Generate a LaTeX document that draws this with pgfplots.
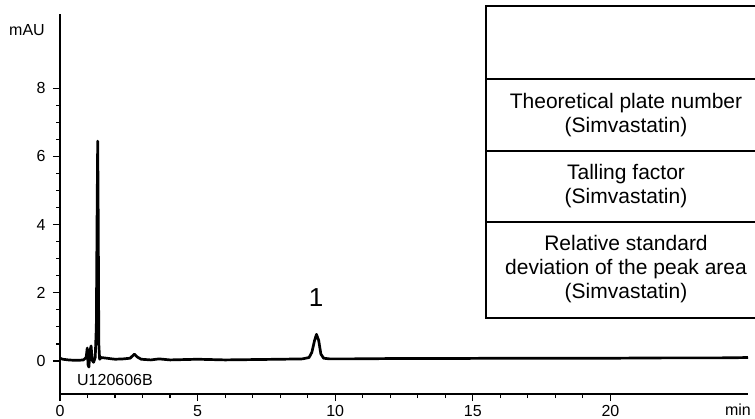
\documentclass[border=0pt]{standalone}
\usepackage{pgfplots}
\pgfplotsset{compat=1.18}
\usepackage{fontspec}
\setmainfont{Liberation Sans}

\begin{document}
\begin{tikzpicture}
\begin{axis}[
  at={(60bp,25bp)}, anchor=south west,
  scale only axis, width=688bp, height=380bp,
  xmin=0, xmax=25, ymin=-0.97, ymax=10.18,
  axis lines*=left,
  axis line style={line width=1.5bp},
  xtick={0,5,10,15,20}, ytick={0,2,4,6,8},
  minor x tick num=4, minor y tick num=3,
  tick align=outside, major tick length=7bp, minor tick length=4bp,
  tick style={line width=1.2bp, black},
  ticklabel style={font=\fontsize{16bp}{18bp}\selectfont},
  xticklabel style={yshift=-1bp},
  yticklabel style={xshift=-4bp},
  /pgf/number format/assume math mode=true,
  clip=false,
]
\addplot[black, line width=2.7bp, line join=round] coordinates {
  (0,0.08) (0.1,0.05) (0.3,0.03) (0.5,0.02) (0.7,0.02) (0.85,0.03)
  (0.95,0.1) (0.99,0.38) (1.02,-0.12) (1.05,-0.18) (1.09,0.3) (1.13,0.44)
  (1.17,0.02) (1.22,-0.04) (1.28,0.1) (1.32,1.0) (1.35,4.5) (1.37,6.45)
  (1.39,4.0) (1.41,0.5) (1.44,0.05) (1.5,0.1) (1.7,0.08) (2.0,0.05)
  (2.3,0.06) (2.55,0.08) (2.7,0.2) (2.8,0.12) (2.95,0.05) (3.3,0.03)
  (3.6,0.06) (4,0.03) (4.5,0.04) (5,0.05) (6,0.03) (7,0.04) (8,0.05)
  (8.8,0.06) (9.05,0.1) (9.15,0.25) (9.25,0.6) (9.32,0.78) (9.4,0.6)
  (9.48,0.2) (9.58,0.08) (9.8,0.06) (10.5,0.06) (12,0.07) (14,0.07)
  (16,0.08) (18,0.08) (20,0.08) (22,0.09) (24,0.09) (25,0.1)
};
\end{axis}
% labels
\node[font=\fontsize{16bp}{18bp}\selectfont] at (27bp,389bp) {mAU};
\node[font=\fontsize{16bp}{18bp}\selectfont, anchor=base east, inner sep=0pt] at (751bp,3.5bp) {min};
\node[font=\fontsize{16bp}{18bp}\selectfont] at (115bp,39bp) {U120606B};
\node[font=\fontsize{26bp}{28bp}\selectfont] at (316bp,121bp) {1};
% table
\begin{scope}[line width=2bp]
  \draw (486bp,413bp) rectangle (766bp,101bp);
  \draw (486bp,340bp) -- (766bp,340bp);
  \draw (486bp,268bp) -- (766bp,268bp);
  \draw (486bp,197bp) -- (766bp,197bp);
\end{scope}
\begin{scope}[every node/.style={align=center, font=\fontsize{21bp}{24bp}\selectfont}]
  \node at (626bp,304bp) {Theoretical plate number\\(Simvastatin)};
  \node at (626bp,232.5bp) {Talling factor\\(Simvastatin)};
  \node at (626bp,150bp) {Relative standard\\deviation of the peak area\\(Simvastatin)};
\end{scope}
\pgfresetboundingbox
\path[use as bounding box] (0,0) rectangle (755bp,419bp);
\end{tikzpicture}
\end{document}
